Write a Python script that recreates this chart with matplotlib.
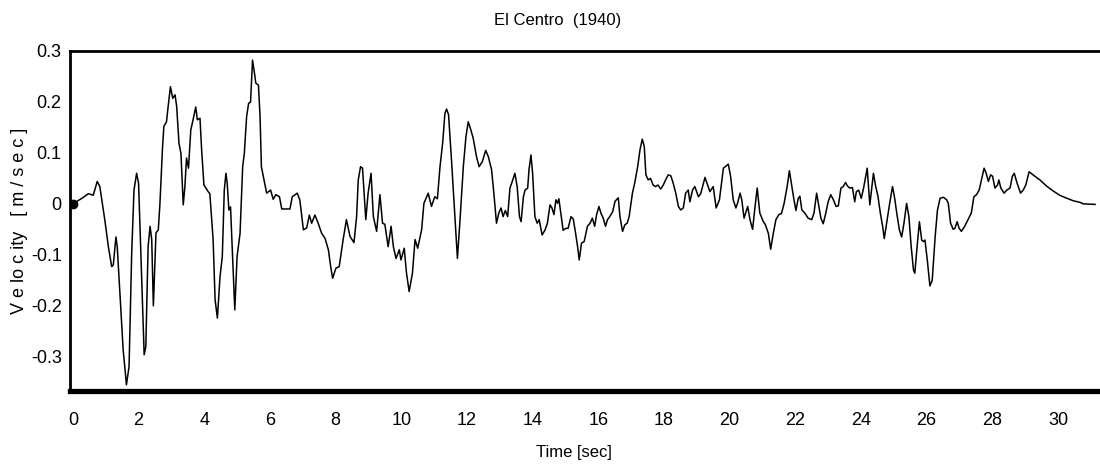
import matplotlib.pyplot as plt

# El Centro (1940) ground velocity
TIME = [
    0.0, 0.1, 0.2, 0.3, 0.47, 0.62, 0.74, 0.82, 0.97, 1.08, 1.18, 1.23, 1.31,
    1.35, 1.43, 1.53, 1.63, 1.71, 1.79, 1.86, 1.94, 2.0, 2.09, 2.17, 2.22,
    2.29, 2.35, 2.4, 2.45, 2.53, 2.6, 2.65, 2.73, 2.77, 2.85, 2.9, 2.97, 3.04,
    3.11, 3.16, 3.23, 3.29, 3.36, 3.41, 3.46, 3.52, 3.59, 3.66, 3.74, 3.79,
    3.87, 3.92, 3.99, 4.12, 4.17, 4.27, 4.33, 4.4, 4.48, 4.55, 4.61, 4.66,
    4.7, 4.75, 4.8, 4.86, 4.93, 5.0, 5.09, 5.17, 5.22, 5.29, 5.35, 5.41,
    5.47, 5.53, 5.57, 5.65, 5.7, 5.74, 5.82, 5.9, 6.02, 6.1, 6.18, 6.29,
    6.36, 6.61, 6.68, 6.83, 6.91, 7.02, 7.12, 7.2, 7.27, 7.37, 7.47, 7.57,
    7.68, 7.78, 7.85, 7.91, 8.01, 8.11, 8.23, 8.33, 8.44, 8.56, 8.64, 8.69,
    8.76, 8.82, 8.92, 8.99, 9.08, 9.15, 9.25, 9.35, 9.43, 9.5, 9.6, 9.69,
    9.76, 9.84, 9.94, 9.99, 10.09, 10.16, 10.24, 10.34, 10.42, 10.5, 10.62,
    10.69, 10.82, 10.92, 11.02, 11.1, 11.18, 11.26, 11.33, 11.38, 11.44,
    11.53, 11.61, 11.71, 11.79, 11.89, 11.97, 12.04, 12.11, 12.19, 12.29,
    12.37, 12.47, 12.57, 12.65, 12.75, 12.82, 12.9, 12.97, 13.04, 13.1,
    13.17, 13.24, 13.31, 13.38, 13.46, 13.53, 13.6, 13.65, 13.72, 13.77,
    13.85, 13.89, 13.95, 14.0, 14.07, 14.14, 14.2, 14.29, 14.38, 14.45,
    14.53, 14.59, 14.65, 14.71, 14.76, 14.8, 14.86, 14.93, 15.01, 15.08,
    15.17, 15.24, 15.31, 15.37, 15.42, 15.49, 15.57, 15.67, 15.75, 15.82,
    15.89, 15.95, 16.02, 16.08, 16.15, 16.22, 16.28, 16.35, 16.44, 16.51,
    16.61, 16.66, 16.74, 16.81, 16.88, 16.94, 17.04, 17.11, 17.2, 17.27,
    17.34, 17.4, 17.45, 17.52, 17.59, 17.67, 17.74, 17.82, 17.9, 17.98,
    18.05, 18.13, 18.21, 18.28, 18.36, 18.44, 18.51, 18.59, 18.66, 18.74,
    18.79, 18.87, 18.94, 19.05, 19.12, 19.25, 19.4, 19.5, 19.59, 19.69,
    19.81, 19.89, 19.96, 20.03, 20.11, 20.19, 20.24, 20.32, 20.37, 20.44,
    20.55, 20.62, 20.7, 20.77, 20.84, 20.92, 21.02, 21.09, 21.18, 21.25,
    21.33, 21.41, 21.5, 21.58, 21.66, 21.76, 21.82, 21.89, 21.96, 22.02,
    22.09, 22.14, 22.2, 22.29, 22.39, 22.5, 22.57, 22.65, 22.72, 22.78,
    22.85, 22.93, 23.0, 23.08, 23.16, 23.24, 23.31, 23.39, 23.46, 23.53,
    23.59, 23.66, 23.74, 23.81, 23.86, 23.93, 24.01, 24.08, 24.19, 24.27,
    24.32, 24.38, 24.44, 24.52, 24.59, 24.66, 24.71, 24.78, 24.86, 24.96,
    25.02, 25.09, 25.17, 25.24, 25.31, 25.39, 25.46, 25.53, 25.6, 25.64,
    25.71, 25.78, 25.85, 25.9, 25.95, 26.02, 26.1, 26.17, 26.26, 26.33,
    26.41, 26.51, 26.61, 26.66, 26.73, 26.81, 26.86, 26.93, 26.99, 27.06,
    27.16, 27.26, 27.36, 27.44, 27.52, 27.6, 27.67, 27.75, 27.81, 27.88,
    27.95, 28.01, 28.08, 28.16, 28.2, 28.26, 28.36, 28.44, 28.54, 28.61,
    28.67, 28.74, 28.79, 28.86, 28.94, 29.02, 29.12, 29.3, 29.45, 29.65,
    29.86, 30.05, 30.27, 30.47, 30.67, 30.77, 31.13,
]
VELOCITY = [
    0.0, 0.004, 0.008, 0.012, 0.02, 0.017, 0.044, 0.034, -0.031, -0.084,
    -0.123, -0.12, -0.065, -0.084, -0.175, -0.286, -0.355, -0.319, -0.097,
    0.027, 0.06, 0.04, -0.136, -0.296, -0.28, -0.084, -0.044, -0.07, -0.2,
    -0.057, -0.051, 0.0, 0.112, 0.152, 0.161, 0.191, 0.23, 0.207, 0.214,
    0.191, 0.119, 0.099, -0.002, 0.034, 0.09, 0.07, 0.145, 0.165, 0.19,
    0.165, 0.168, 0.106, 0.037, 0.024, 0.02, -0.07, -0.188, -0.224, -0.143,
    -0.103, 0.027, 0.06, 0.04, -0.012, -0.006, -0.097, -0.208, -0.103,
    -0.058, 0.073, 0.099, 0.171, 0.197, 0.2, 0.282, 0.256, 0.237, 0.233,
    0.171, 0.073, 0.047, 0.021, 0.027, 0.009, 0.018, 0.014, -0.01, -0.01,
    0.014, 0.021, 0.008, -0.051, -0.047, -0.022, -0.038, -0.022, -0.038,
    -0.057, -0.068, -0.09, -0.123, -0.146, -0.126, -0.123, -0.07, -0.031,
    -0.064, -0.076, -0.025, 0.047, 0.073, 0.07, -0.031, 0.021, 0.06, -0.025,
    -0.054, 0.018, -0.038, -0.04, -0.084, -0.044, -0.084, -0.107, -0.09,
    -0.11, -0.087, -0.136, -0.172, -0.136, -0.07, -0.087, -0.051, 0.001,
    0.021, -0.005, 0.014, 0.01, 0.073, 0.119, 0.178, 0.186, 0.175, 0.086,
    0.001, -0.107, -0.031, 0.073, 0.132, 0.161, 0.147, 0.129, 0.093, 0.073,
    0.083, 0.105, 0.093, 0.067, 0.021, -0.038, -0.018, -0.008, -0.025,
    -0.013, -0.025, 0.031, 0.044, 0.06, 0.034, -0.025, -0.035, 0.014, 0.027,
    0.031, 0.067, 0.096, 0.06, -0.025, -0.038, -0.031, -0.061, -0.051,
    -0.038, -0.002, -0.008, -0.021, 0.008, 0.001, 0.01, -0.018, -0.052,
    -0.048, -0.048, -0.025, -0.03, -0.058, -0.084, -0.11, -0.077, -0.074,
    -0.044, -0.038, -0.028, -0.044, -0.021, -0.005, -0.018, -0.028, -0.044,
    -0.031, -0.025, -0.015, 0.005, 0.012, -0.025, -0.054, -0.041, -0.038,
    -0.025, 0.021, 0.041, 0.073, 0.106, 0.127, 0.113, 0.057, 0.047, 0.05,
    0.037, 0.034, 0.037, 0.029, 0.037, 0.047, 0.057, 0.055, 0.041, 0.021,
    -0.005, -0.012, -0.008, 0.021, 0.027, 0.004, 0.027, 0.034, 0.014, 0.02,
    0.052, 0.024, 0.034, -0.008, 0.008, 0.07, 0.074, 0.078, 0.054, 0.008,
    -0.008, 0.001, 0.021, 0.008, -0.028, -0.005, -0.031, -0.05, -0.008,
    0.031, -0.018, -0.034, -0.041, -0.058, -0.089, -0.058, -0.031, -0.021,
    -0.019, 0.001, 0.037, 0.065, 0.037, 0.008, -0.013, 0.011, 0.015, -0.012,
    -0.018, -0.028, -0.031, -0.018, 0.021, -0.005, -0.028, -0.039, -0.018,
    0.004, 0.018, 0.008, -0.005, -0.004, 0.031, 0.034, 0.042, 0.035, 0.031,
    0.032, 0.004, 0.024, 0.027, 0.011, 0.031, 0.07, -0.002, 0.027, 0.06,
    0.037, 0.014, -0.018, -0.044, -0.068, -0.038, -0.005, 0.034, 0.014,
    -0.018, -0.051, -0.065, -0.038, 0.001, -0.025, -0.084, -0.13, -0.136,
    -0.084, -0.035, -0.071, -0.074, -0.071, -0.11, -0.161, -0.15, -0.064,
    -0.012, 0.011, 0.013, 0.008, 0.001, -0.038, -0.05, -0.048, -0.035,
    -0.048, -0.054, -0.044, -0.031, -0.018, 0.014, 0.018, 0.027, 0.047,
    0.07, 0.061, 0.044, 0.057, 0.054, 0.031, 0.037, 0.047, 0.031, 0.021,
    0.027, 0.031, 0.054, 0.06, 0.044, 0.034, 0.021, 0.027, 0.037, 0.063,
    0.054, 0.047, 0.035, 0.025, 0.017, 0.011, 0.006, 0.003, 0.0, -0.001,
]
X_TICKS = list(range(0, 31, 2))
Y_TICKS = [-0.3, -0.2, -0.1, 0.0, 0.1, 0.2, 0.3]
Y_TICK_LABELS = ["-0.3", "-0.2", "-0.1", "0", "0.1", "0.2", "0.3"]

plt.rcParams["font.family"] = ["Liberation Sans", "DejaVu Sans"]

fig = plt.figure(figsize=(11.0, 4.71), dpi=100)
ax = fig.add_axes([0.0636, 0.170, 0.9355, 0.7218])

ax.plot(TIME, VELOCITY, color="black", lw=1.1)
ax.plot([TIME[0]], [VELOCITY[0]], marker="o", color="black", markersize=6)

ax.set_xlim(-0.09, 31.25)
ax.set_ylim(-0.367, 0.3)
ax.set_xticks(X_TICKS)
ax.set_yticks(Y_TICKS)
ax.set_yticklabels(Y_TICK_LABELS)

ax.spines["left"].set_linewidth(2.0)
ax.spines["top"].set_linewidth(2.0)
ax.spines["bottom"].set_linewidth(3.8)
ax.spines["right"].set_visible(False)

ax.tick_params(axis="x", direction="in", color="white", length=3, width=1,
               top=True, labelsize=13, pad=15)
ax.tick_params(axis="y", direction="in", color="white", length=0,
               labelsize=13, pad=6)

ax.set_ylabel("V e lo c ity   [ m / s e c ]", fontsize=13, labelpad=2)
fig.text(0.522, 0.04, "Time [sec]", ha="center", va="center", fontsize=12)
fig.text(0.507, 0.957, "El Centro  (1940)", ha="center", va="center", fontsize=12)

plt.savefig("out.png", dpi=100)
plt.close()
